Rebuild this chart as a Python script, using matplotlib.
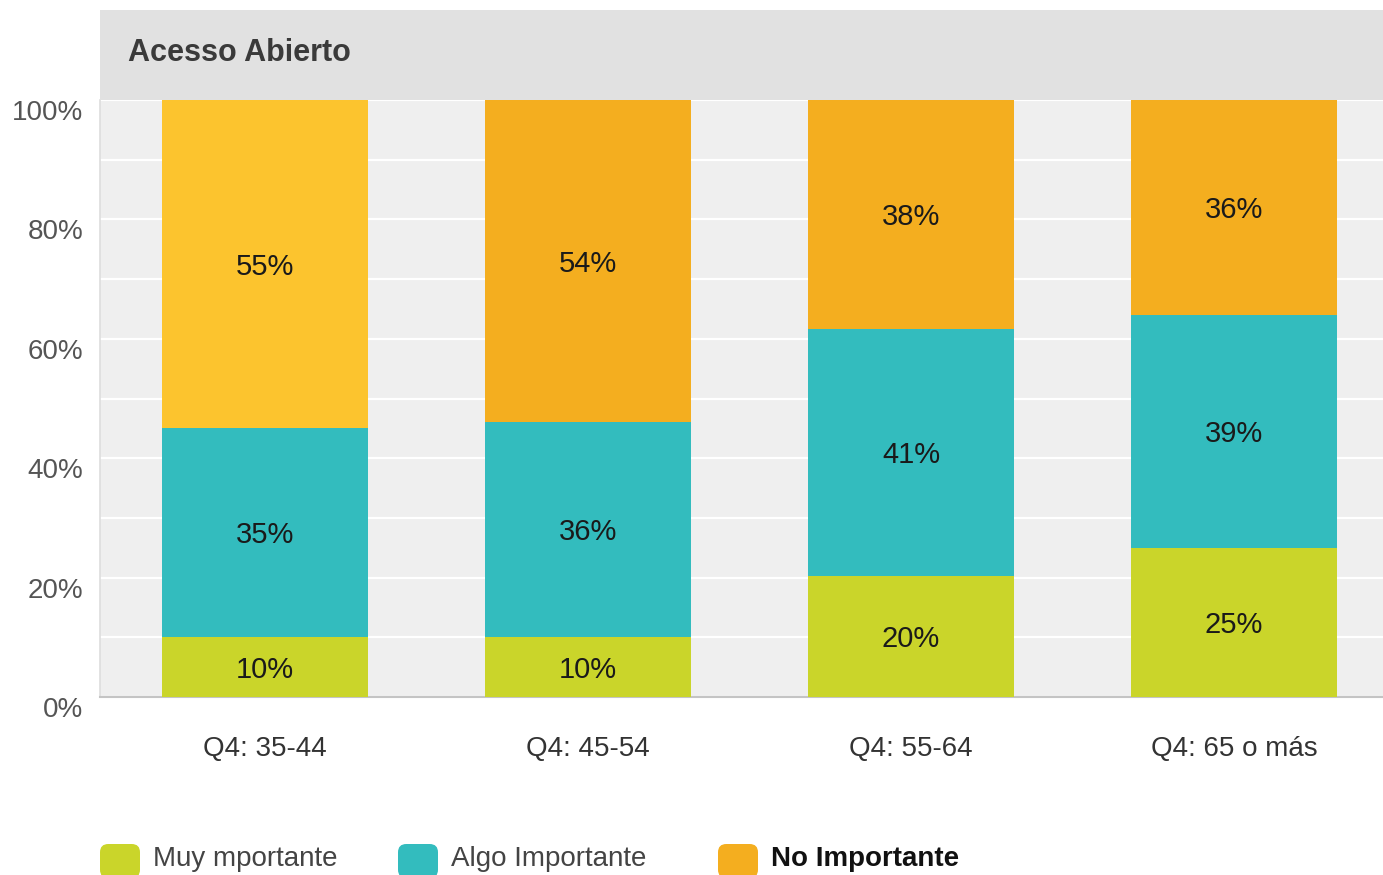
import matplotlib.pyplot as plt
from matplotlib.patches import Rectangle, FancyBboxPatch
import numpy as np

categories = ["Q4: 35-44", "Q4: 45-54", "Q4: 55-64", "Q4: 65 o más"]
muy = [10, 10, 20, 25]
algo = [35, 36, 41, 39]
no_imp = [55, 54, 38, 36]
series_names = ["Muy mportante", "Algo Importante", "No Importante"]
yticks = [0, 20, 40, 60, 80, 100]

c_muy = "#cad52a"
c_algo = "#33bcbe"
c_no = "#f4ae1f"
c_no_first = "#fcc42e"

plt.rcParams['font.family'] = ['Liberation Sans', 'DejaVu Sans']

W, H = 1383, 875
fig = plt.figure(figsize=(W / 100, H / 100), dpi=100)
fig.patch.set_facecolor("white")

# plot area in pixel coordinates of the reference
left, right, top, bottom = 100, 1383, 100, 697
ax = fig.add_axes([left / W, 1 - bottom / H, (right - left) / W, (bottom - top) / H])
ax.set_facecolor("#efefef")

# header band
fig.patches.append(Rectangle((left / W, 1 - top / H), (right - left) / W, (top - 10) / H,
                             transform=fig.transFigure, facecolor="#e1e1e1", edgecolor="none"))
fig.text(128 / W, 1 - 53 / H, "Acesso Abierto", fontsize=22, fontweight="bold",
         color="#3a3a3a", va="center", ha="left")

x = np.arange(len(categories))
totals = np.array(muy) + np.array(algo) + np.array(no_imp)
h_muy = np.array(muy) / totals * 100
h_algo = np.array(algo) / totals * 100
h_no = np.array(no_imp) / totals * 100

bw = 0.638
no_colors = [c_no_first] + [c_no] * (len(categories) - 1)
ax.bar(x, h_muy, bw, color=c_muy, zorder=3)
ax.bar(x, h_algo, bw, bottom=h_muy, color=c_algo, zorder=3)
ax.bar(x, h_no, bw, bottom=h_muy + h_algo, color=no_colors, zorder=3)

for i in range(len(categories)):
    segs = [(h_muy[i], 0, muy[i]), (h_algo[i], h_muy[i], algo[i]),
            (h_no[i], h_muy[i] + h_algo[i], no_imp[i])]
    for h, b, v in segs:
        ax.text(x[i], b + h / 2 - 0.4, f"{v}%", ha="center", va="center",
                fontsize=21, color="#1a1a1a", zorder=4)

ax.set_xlim(-0.511, 3.461)
ax.set_ylim(0, 100)

ax.set_yticks(yticks)
ax.set_yticks(np.arange(10, 100, 20), minor=True)
ax.grid(axis="y", which="both", color="white", linewidth=1.6, zorder=1)
ax.set_axisbelow(True)
ax.set_yticklabels([f"{t}%" for t in yticks], fontsize=20, color="#555555", va="top")
ax.tick_params(axis="y", which="both", length=0, pad=12)

ax.set_xticks(x)
ax.set_xticklabels(categories, fontsize=20, color="#333333")
ax.tick_params(axis="x", length=0, pad=28)

for s in ["top", "right"]:
    ax.spines[s].set_visible(False)
ax.spines["bottom"].set_color("#c4c4c4")
ax.spines["bottom"].set_linewidth(1.5)
ax.spines["left"].set_color("#dddddd")
ax.spines["left"].set_linewidth(1.2)

# legend
leg_x = [100, 398, 718]
leg_colors = [c_muy, c_algo, c_no]
for lx, col, name, wgt, tc in zip(leg_x, leg_colors, series_names,
                                  ["normal", "normal", "bold"],
                                  ["#444444", "#444444", "#111111"]):
    fig.patches.append(FancyBboxPatch((lx / W, 1 - 878 / H), 40 / W, 34 / H,
                                      boxstyle="round,pad=0,rounding_size=0.006",
                                      transform=fig.transFigure, facecolor=col,
                                      edgecolor="none", mutation_aspect=W / H))
    fig.text((lx + 53) / W, 1 - 859 / H, name, fontsize=20, fontweight=wgt,
             color=tc, va="center", ha="left")

fig.savefig("out.png", dpi=100)
